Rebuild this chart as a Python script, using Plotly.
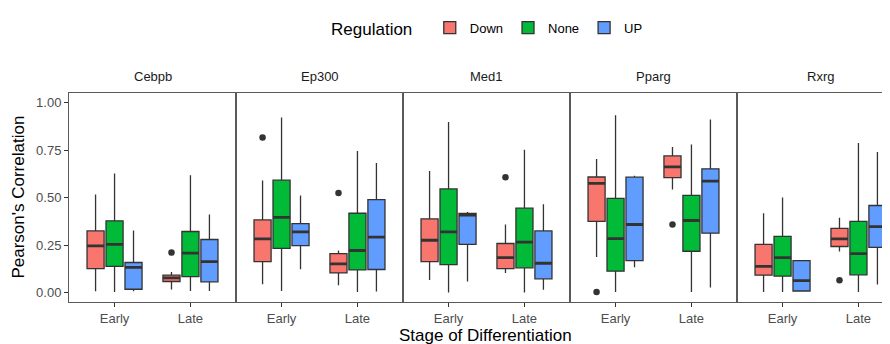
import plotly.graph_objects as go
from plotly.subplots import make_subplots

FACETS = ["Cebpb", "Ep300", "Med1", "Pparg", "Rxrg"]
STAGES = ["Early", "Late"]
GROUPS = ["Down", "None", "UP"]
COLORS = ["#F8766D", "#00BA38", "#619CFF"]

# order: Cebpb E, Cebpb L, Ep300 E, Ep300 L, Med1 E, Med1 L, Pparg E, Pparg L, Rxrg E, Rxrg L
DOWN_LOW = [0.007, 0.016, 0.044, 0.038, 0.066, 0.102, 0.187, 0.542, 0.002, 0.216]
DOWN_Q1 = [0.126, 0.058, 0.163, 0.103, 0.163, 0.126, 0.374, 0.605, 0.091, 0.242]
DOWN_MED = [0.245, 0.077, 0.282, 0.151, 0.275, 0.184, 0.574, 0.661, 0.138, 0.282]
DOWN_Q3 = [0.324, 0.091, 0.382, 0.205, 0.387, 0.258, 0.608, 0.719, 0.253, 0.337]
DOWN_HIGH = [0.516, 0.108, 0.589, 0.221, 0.640, 0.358, 0.702, 0.766, 0.417, 0.393]

NONE_LOW = [0.002, 0.008, 0.008, 0.002, 0.000, 0.000, 0.002, 0.002, 0.002, 0.002]
NONE_Q1 = [0.138, 0.084, 0.232, 0.119, 0.147, 0.130, 0.112, 0.217, 0.086, 0.093]
NONE_MED = [0.253, 0.207, 0.395, 0.221, 0.319, 0.265, 0.284, 0.379, 0.184, 0.205]
NONE_Q3 = [0.377, 0.321, 0.591, 0.417, 0.545, 0.444, 0.495, 0.511, 0.295, 0.374]
NONE_HIGH = [0.626, 0.617, 0.921, 0.745, 0.898, 0.751, 0.933, 0.779, 0.500, 0.787]

UP_LOW = [0.007, 0.008, 0.123, 0.005, 0.058, 0.014, 0.133, 0.026, 0.006, 0.042]
UP_Q1 = [0.017, 0.056, 0.247, 0.121, 0.253, 0.072, 0.168, 0.312, 0.008, 0.237]
UP_MED = [0.132, 0.163, 0.319, 0.291, 0.407, 0.154, 0.358, 0.586, 0.063, 0.347]
UP_Q3 = [0.158, 0.279, 0.363, 0.489, 0.416, 0.324, 0.607, 0.651, 0.168, 0.458]
UP_HIGH = [0.326, 0.410, 0.511, 0.682, 0.424, 0.465, 0.614, 0.911, 0.170, 0.740]

OUT_FACET = ["Cebpb", "Ep300", "Ep300", "Med1", "Pparg", "Pparg", "Rxrg"]
OUT_STAGE = ["Late", "Early", "Late", "Late", "Early", "Late", "Late"]
OUT_GROUP = ["Down", "Down", "Down", "Down", "Down", "Down", "Down"]
OUT_VALUE = [0.210, 0.816, 0.524, 0.607, 0.003, 0.358, 0.065]

STATS = {
    "Down": (DOWN_LOW, DOWN_Q1, DOWN_MED, DOWN_Q3, DOWN_HIGH),
    "None": (NONE_LOW, NONE_Q1, NONE_MED, NONE_Q3, NONE_HIGH),
    "UP": (UP_LOW, UP_Q1, UP_MED, UP_Q3, UP_HIGH),
}

DODGE = 0.25
BOXW = 0.225
LINE = "#333333"
FONT = "Liberation Sans, Arial, sans-serif"

fig = make_subplots(rows=1, cols=5, shared_yaxes=True, horizontal_spacing=0,
                    column_widths=[167, 167, 167, 167, 153])

for fi, facet in enumerate(FACETS):
    col = fi + 1
    for gi, grp in enumerate(GROUPS):
        low, q1, med, q3, high = STATS[grp]
        idx = [fi * 2, fi * 2 + 1]
        xs = [si + 1 + (gi - 1) * DODGE for si in range(len(STAGES))]
        fig.add_trace(go.Box(
            x=xs, q1=[q1[i] for i in idx], median=[med[i] for i in idx],
            q3=[q3[i] for i in idx], lowerfence=[low[i] for i in idx],
            upperfence=[high[i] for i in idx], width=BOXW, whiskerwidth=0,
            fillcolor=COLORS[gi], line=dict(color=LINE, width=1.3),
            boxpoints=False, name=grp, legendgroup=grp, showlegend=(fi == 0),
            hoverinfo="skip"), row=1, col=col)
        # thicker median line
        m = [med[i] for i in idx]
        fig.add_trace(go.Box(
            x=xs, q1=m, median=m, q3=m, lowerfence=m, upperfence=m,
            width=BOXW, whiskerwidth=0, fillcolor="rgba(0,0,0,0)",
            line=dict(color=LINE, width=2.8), boxpoints=False,
            showlegend=False, legendgroup=grp, hoverinfo="skip"), row=1, col=col)
    # outliers
    ox, oy = [], []
    for f, s, g, v in zip(OUT_FACET, OUT_STAGE, OUT_GROUP, OUT_VALUE):
        if f == facet:
            ox.append(STAGES.index(s) + 1 + (GROUPS.index(g) - 1) * DODGE)
            oy.append(v)
    if ox:
        fig.add_trace(go.Scatter(x=ox, y=oy, mode="markers",
                                 marker=dict(color=LINE, size=6.5),
                                 showlegend=False, hoverinfo="skip"), row=1, col=col)

for fi in range(5):
    col = fi + 1
    rng = [0.4, 2.6] if fi < 4 else [0.4, 0.4 + 153 / (167 / 2.2)]
    fig.update_xaxes(range=rng, tickvals=[1, 2], ticktext=STAGES, ticks="outside",
                     ticklen=4, tickcolor=LINE, showgrid=False, zeroline=False,
                     showline=True, linecolor="#5a5a5a", linewidth=1, mirror=True,
                     tickfont=dict(size=13, color="#4D4D4D", family=FONT),
                     row=1, col=col)
    fig.update_yaxes(range=[-0.05, 1.05], showgrid=False, zeroline=False,
                     showline=True, linecolor="#5a5a5a", linewidth=1,
                     mirror=(fi < 4), row=1, col=col)
fig.update_yaxes(tickvals=[0, 0.25, 0.5, 0.75, 1.0],
                 ticktext=["0.00", "0.25", "0.50", "0.75", "1.00"],
                 ticks="outside", ticklen=4, tickcolor=LINE,
                 tickfont=dict(size=13, color="#4D4D4D", family=FONT), row=1, col=1)

# strip labels
doms = [fig.layout[f"xaxis{'' if i == 0 else i + 1}"].domain for i in range(5)]
for fi, facet in enumerate(FACETS):
    d = doms[fi]
    cx = (d[0] + d[1]) / 2 if fi < 4 else d[0] + (d[1] - d[0]) * (167 / 2 / 153)
    fig.add_annotation(text=facet, x=cx, y=1.078, xref="paper", yref="paper",
                       showarrow=False, xanchor="center", yanchor="middle",
                       font=dict(size=13, color="#1A1A1A", family=FONT))

fig.add_annotation(text="Pearson's Correlation", x=-0.062, y=0.5, xref="paper",
                   yref="paper", showarrow=False, textangle=-90,
                   xanchor="center", yanchor="middle",
                   font=dict(size=17, color="black", family=FONT))
fig.add_annotation(text="Stage of Differentiation", x=0.507, y=-0.158, xref="paper",
                   yref="paper", showarrow=False, xanchor="center", yanchor="middle",
                   font=dict(size=17, color="black", family=FONT))

# the page body has an 8px default margin; size the figure so the plot area
# lands where the reference has it (x 69..890, y 93..302)
fig.update_layout(
    width=882, height=336,
    margin=dict(l=61, r=0, t=85, b=42),
    paper_bgcolor="white", plot_bgcolor="white",
    boxmode="overlay",
    font=dict(family=FONT),
    legend=dict(orientation="h", x=0.511, xanchor="center", y=1.305, yanchor="middle",
                title=dict(text="Regulation  ", font=dict(size=17, color="black")),
                font=dict(size=13, color="black"), itemwidth=30,
                bgcolor="rgba(0,0,0,0)"),
)

fig.write_html("out.html")
